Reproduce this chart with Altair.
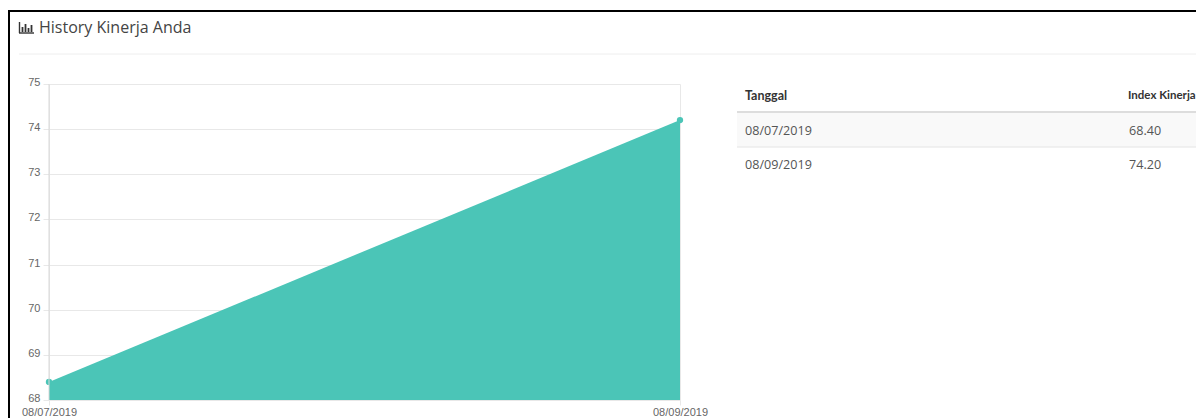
import altair as alt
import pandas as pd

# chart data
dates = ["08/07/2019", "08/09/2019"]
index_values = [68.4, 74.2]
y_ticks = [68, 69, 70, 71, 72, 73, 74, 75]

# text
title_text = "History Kinerja Anda"
col_headers = ["Tanggal", "Index Kinerja"]
row_values = ["68.40", "74.20"]

FILL = "#4BC5B7"
GRID = "#E8E8E8"
LABEL = "#666666"
W, H = 631, 316
OX, OY = 41, 76  # plot origin inside the page's chart box


def px(x):
    return x - 8 - OX


def py(y):
    return y - 8 - OY


df = pd.DataFrame({"date": dates, "value": index_values})
x_enc = alt.X(
    "date:N",
    sort=dates,
    scale=alt.Scale(type="point", padding=0),
    axis=alt.Axis(
        title=None, labelAngle=0, labelFont="Liberation Sans", labelFontSize=11,
        labelColor=LABEL, domain=False, grid=True, gridColor=GRID, tickColor=GRID,
        tickSize=5, labelPadding=1, labelFlush=False, labelOverlap=False,
    ),
)
y_enc = alt.Y(
    "value:Q",
    scale=alt.Scale(domain=[68, 75], nice=False, zero=False),
    axis=alt.Axis(
        title=None, values=y_ticks, format="d", labelFont="Liberation Sans",
        labelFontSize=11, labelColor=LABEL, domain=False, grid=True, gridColor=GRID,
        tickColor=GRID, tickSize=6, labelPadding=3, labelOffset=-1.5,
    ),
)

base = alt.Chart(df)
area = base.mark_area(color=FILL, opacity=1, clip=True).encode(x=x_enc, y=y_enc)
points = base.mark_point(filled=True, color=FILL, size=40, opacity=1).encode(x=x_enc, y=y_enc)

one = alt.Chart(pd.DataFrame({"k": [0]}))


def hline(x1, x2, y, color, width=1):
    return one.mark_rule(color=color, strokeWidth=width).encode(
        x=alt.value(px(x1)), x2=alt.value(px(x2)), y=alt.value(py(y))
    )


def vline(x, y1, y2, color, width=1):
    return one.mark_rule(color=color, strokeWidth=width).encode(
        x=alt.value(px(x)), y=alt.value(py(y1)), y2=alt.value(py(y2))
    )


def label(text, x, y, size, color, weight="normal", font="Open Sans"):
    return alt.Chart(pd.DataFrame({"t": [text]})).mark_text(
        align="left", baseline="middle", fontSize=size, color=color,
        fontWeight=weight, font=font,
    ).encode(text="t:N", x=alt.value(px(x)), y=alt.value(py(y)))


row_band = one.mark_rect(color="#F9F9F9").encode(
    x=alt.value(px(737)), x2=alt.value(px(1204)),
    y=alt.value(py(113)), y2=alt.value(py(147)),
)

decor = [
    hline(8, 1204, 11, "#000000", 2),
    vline(9, 10, 418, "#000000", 2),
    hline(19, 1204, 54, "#EEEEEE"),
    # left edge of the plot, a little darker than the grid
    vline(49, 84, 400, "#D8D8D8"),
    # bar-chart icon
    vline(19.5, 22, 33, "#333333", 1.4),
    hline(19, 34, 33, "#333333", 1.4),
    vline(22.5, 27, 32, "#333333", 1.8),
    vline(25.5, 24, 32, "#333333", 1.8),
    vline(28.5, 28, 32, "#333333", 1.8),
    vline(31.5, 25, 32, "#333333", 1.8),
    label(title_text, 39, 28, 16, "#444444"),
    row_band,
    hline(737, 1204, 112, "#DDDDDD", 2),
    hline(737, 1204, 147, "#E4E4E4"),
    label(col_headers[0], 745, 96, 12.5, "#333333", "bold", "Lato"),
    label(col_headers[1], 1128, 96, 11.5, "#333333", "bold", "Lato"),
    label(dates[0], 745, 131, 12.6, "#555555"),
    label(dates[1], 745, 165, 12.6, "#555555"),
    label(row_values[0], 1129, 131, 12.6, "#555555"),
    label(row_values[1], 1129, 165, 12.6, "#555555"),
]

chart = alt.layer(area, points, *decor).properties(
    width=W,
    height=H,
    background="#FFFFFF",
    padding={"left": OX, "top": OY, "right": 1188 - OX - W, "bottom": 410 - OY - H},
    autosize=alt.AutoSizeParams(type="none"),
).configure_view(stroke=None)

chart.save("out.html", embed_options={"renderer": "svg", "actions": False})
